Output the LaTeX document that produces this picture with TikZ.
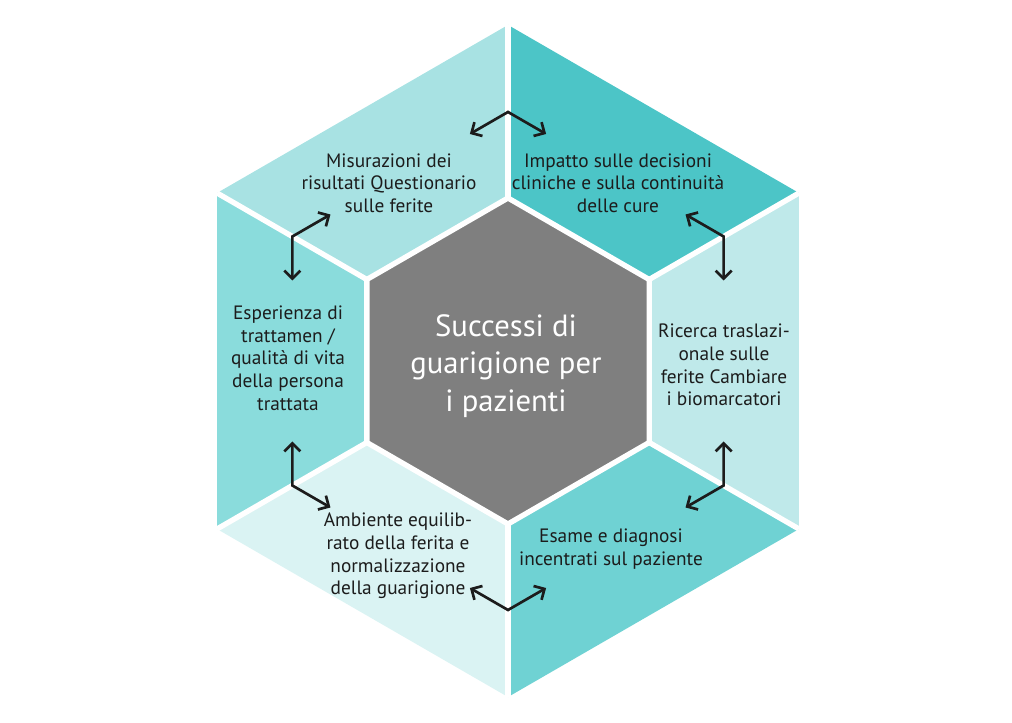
\documentclass[tikz,border=0pt]{standalone}
\usepackage{fontspec}
\setmainfont{PT Sans}
\usetikzlibrary{calc,arrows.meta}

\definecolor{segUL}{HTML}{A8E2E3}
\definecolor{segUR}{HTML}{4CC5C7}
\definecolor{segR}{HTML}{BFE9EA}
\definecolor{segLR}{HTML}{6FD2D3}
\definecolor{segLL}{HTML}{DAF3F3}
\definecolor{segL}{HTML}{8ADCDC}
\definecolor{coregray}{HTML}{7F7F7F}
\definecolor{inkdark}{HTML}{1C1C1C}

\begin{document}
\begin{tikzpicture}[x=0.75pt,y=0.75pt,>={Straight Barb[length=6pt,width=12pt]},
  seg/.style={align=center,text=inkdark,font=\fontsize{14.5}{17}\selectfont},
  core/.style={align=center,text=white,font=\fontsize{23}{28}\selectfont},
  gap/.style={draw=white,line width=4pt},
  link/.style={<->,draw=inkdark,line width=2pt}]
\useasboundingbox (-508,-362) rectangle (504,361);
% hexagon corners (outer, inner) and arrow corners
\foreach \a in {30,90,...,330}{
  \coordinate (o\a) at (\a:336);
  \coordinate (i\a) at (\a:163);
  \coordinate (k\a) at (\a:249);
  \coordinate (u\a) at ($(k\a)+(\a+120:44)$);
  \coordinate (v\a) at ($(k\a)+(\a-120:44)$);
}
% ring segments
\fill[segUL] (o90) -- (o150) -- (i150) -- (i90) -- cycle;
\fill[segUR] (o30) -- (o90) -- (i90) -- (i30) -- cycle;
\fill[segR] (o330) -- (o30) -- (i30) -- (i330) -- cycle;
\fill[segLR] (o270) -- (o330) -- (i330) -- (i270) -- cycle;
\fill[segLL] (o210) -- (o270) -- (i270) -- (i210) -- cycle;
\fill[segL] (o150) -- (o210) -- (i210) -- (i150) -- cycle;
% centre
\fill[coregray] (i30) -- (i90) -- (i150) -- (i210) -- (i270) -- (i330) -- cycle;
\foreach \a in {30,90,...,330}{\draw[gap] (i\a) -- (o\a);}
\draw[gap] (i30) -- (i90) -- (i150) -- (i210) -- (i270) -- (i330) -- cycle;
% arrows across the dividers
\draw[link] (u90) -- (k90) -- (v90);
\draw[link] (u150) -- (k150) -- (v150);
\draw[link] (u30) -- (k30) -- (v30);
\draw[link] (u210) -- (k210) -- (v210);
\draw[link] (u330) -- (k330) -- (v330);
\draw[link] (u270) -- (k270) -- (v270);
% labels
\node[core] (hub) at (-2,-5) {Successi di\\guarigione per\\i pazienti};
\node[seg] (misura) at (-119,178) {Misurazioni dei\\risultati Questionario\\sulle ferite};
\node[seg] (impatto) at (110,178) {Impatto sulle decisioni\\cliniche e sulla continuità\\delle cure};
\node[seg] (ricerca) at (216,-4) {Ricerca traslazi-\\onale sulle\\ferite Cambiare\\i biomarcatori};
\node[seg] (esame) at (103,-188) {Esame e diagnosi\\incentrati sul paziente};
\node[seg] (ambiente) at (-110,-195) {Ambiente equilib-\\rato della ferita e\\normalizzazione\\della guarigione};
\node[seg] (esperienza) at (-220,3) {Esperienza di\\trattamen /\\qualità di vita\\della persona\\trattata};
\end{tikzpicture}
\end{document}
